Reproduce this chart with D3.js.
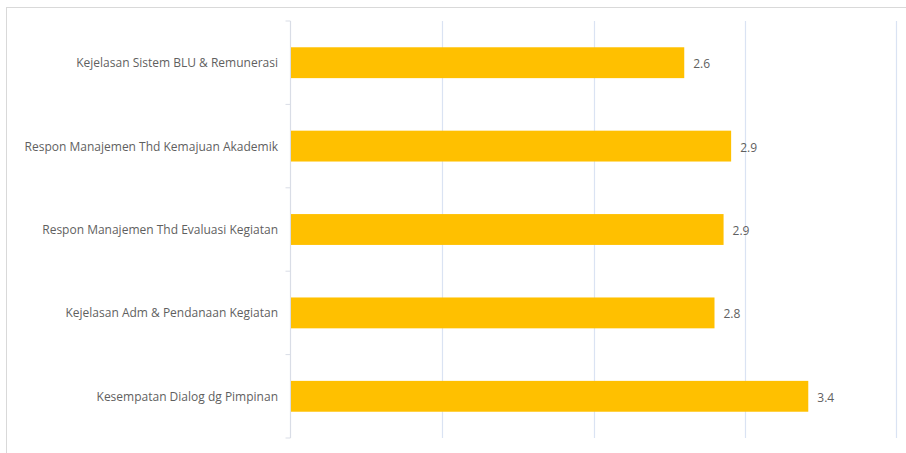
<!DOCTYPE html>
<html>
<head>
<meta charset="utf-8">
<script src="https://cdn.jsdelivr.net/npm/d3@7"></script>
<style>
  html, body { margin: 0; padding: 0; background: #ffffff; }
  svg { display: block; }
</style>
</head>
<body>
<svg id="chart" width="906" height="453"></svg>
<script>
// Survey categories, top to bottom
const categories = [
  "Kejelasan Sistem BLU & Remunerasi",
  "Respon Manajemen Thd Kemajuan Akademik",
  "Respon Manajemen Thd Evaluasi Kegiatan",
  "Kejelasan Adm & Pendanaan Kegiatan",
  "Kesempatan Dialog dg Pimpinan"
];
// Average score per category
const scores = [2.6, 2.91, 2.86, 2.8, 3.42];
// Value axis ticks (gridlines)
const xTicks = [0, 1, 2, 3, 4];

const svg = d3.select("#chart");
const W = 906, H = 453;
const font = "'Open Sans', 'Noto Sans', sans-serif";

// chart frame
svg.append("rect")
  .attr("x", 6.5).attr("y", 7.5)
  .attr("width", W + 10).attr("height", H + 10)
  .attr("fill", "#ffffff")
  .attr("stroke", "#d9d9d9").attr("stroke-width", 1);

const plot = { left: 291, right: 896, top: 21, bottom: 438 };

const x = d3.scaleLinear().domain([0, 4]).range([plot.left, plot.right]);
const y = d3.scaleBand().domain(categories).range([plot.top, plot.bottom]).paddingInner(0.63).paddingOuter(0.315);
const yb = d3.scaleBand().domain(categories).range([plot.top, plot.bottom]);

// vertical gridlines
svg.append("g")
  .selectAll("line")
  .data(xTicks.slice(1))
  .join("line")
  .attr("x1", d => Math.round(x(d)) + 0.5)
  .attr("x2", d => Math.round(x(d)) + 0.5)
  .attr("y1", plot.top).attr("y2", plot.bottom)
  .attr("stroke", "#dae3f3").attr("stroke-width", 1.2);

// category axis with band-boundary ticks
const axisG = svg.append("g").attr("transform", `translate(${Math.round(x(0)) - 0.5},0)`);
axisG.append("line")
  .attr("x1", 0).attr("x2", 0)
  .attr("y1", plot.top).attr("y2", plot.bottom)
  .attr("stroke", "#d9dde6").attr("stroke-width", 1.2);
const bounds = categories.map(c => yb(c)).concat([plot.bottom]);
axisG.selectAll("line.tick")
  .data(bounds)
  .join("line")
  .attr("class", "tick")
  .attr("x1", -5).attr("x2", 0)
  .attr("y1", d => d).attr("y2", d => d)
  .attr("stroke", "#d9dde6").attr("stroke-width", 1);

// category labels
svg.append("g")
  .selectAll("text")
  .data(categories)
  .join("text")
  .attr("x", 278)
  .attr("y", d => yb(d) + yb.bandwidth() / 2)
  .attr("text-anchor", "end")
  .attr("dominant-baseline", "central")
  .attr("font-family", font)
  .attr("font-size", 12)
  .attr("fill", "#5f5f5f")
  .text(d => d);

// bars
svg.append("g")
  .selectAll("rect")
  .data(categories)
  .join("rect")
  .attr("x", x(0))
  .attr("y", d => y(d))
  .attr("width", (d, i) => x(scores[i]) - x(0))
  .attr("height", y.bandwidth())
  .attr("fill", "#ffc000");

// value labels
svg.append("g")
  .selectAll("text")
  .data(categories)
  .join("text")
  .attr("x", (d, i) => x(scores[i]) + 9)
  .attr("y", d => y(d) + y.bandwidth() / 2 + 1)
  .attr("dominant-baseline", "central")
  .attr("font-family", font)
  .attr("font-size", 12)
  .attr("fill", "#5f5f5f")
  .text((d, i) => d3.format(".1f")(scores[i]));
</script>
</body>
</html>
